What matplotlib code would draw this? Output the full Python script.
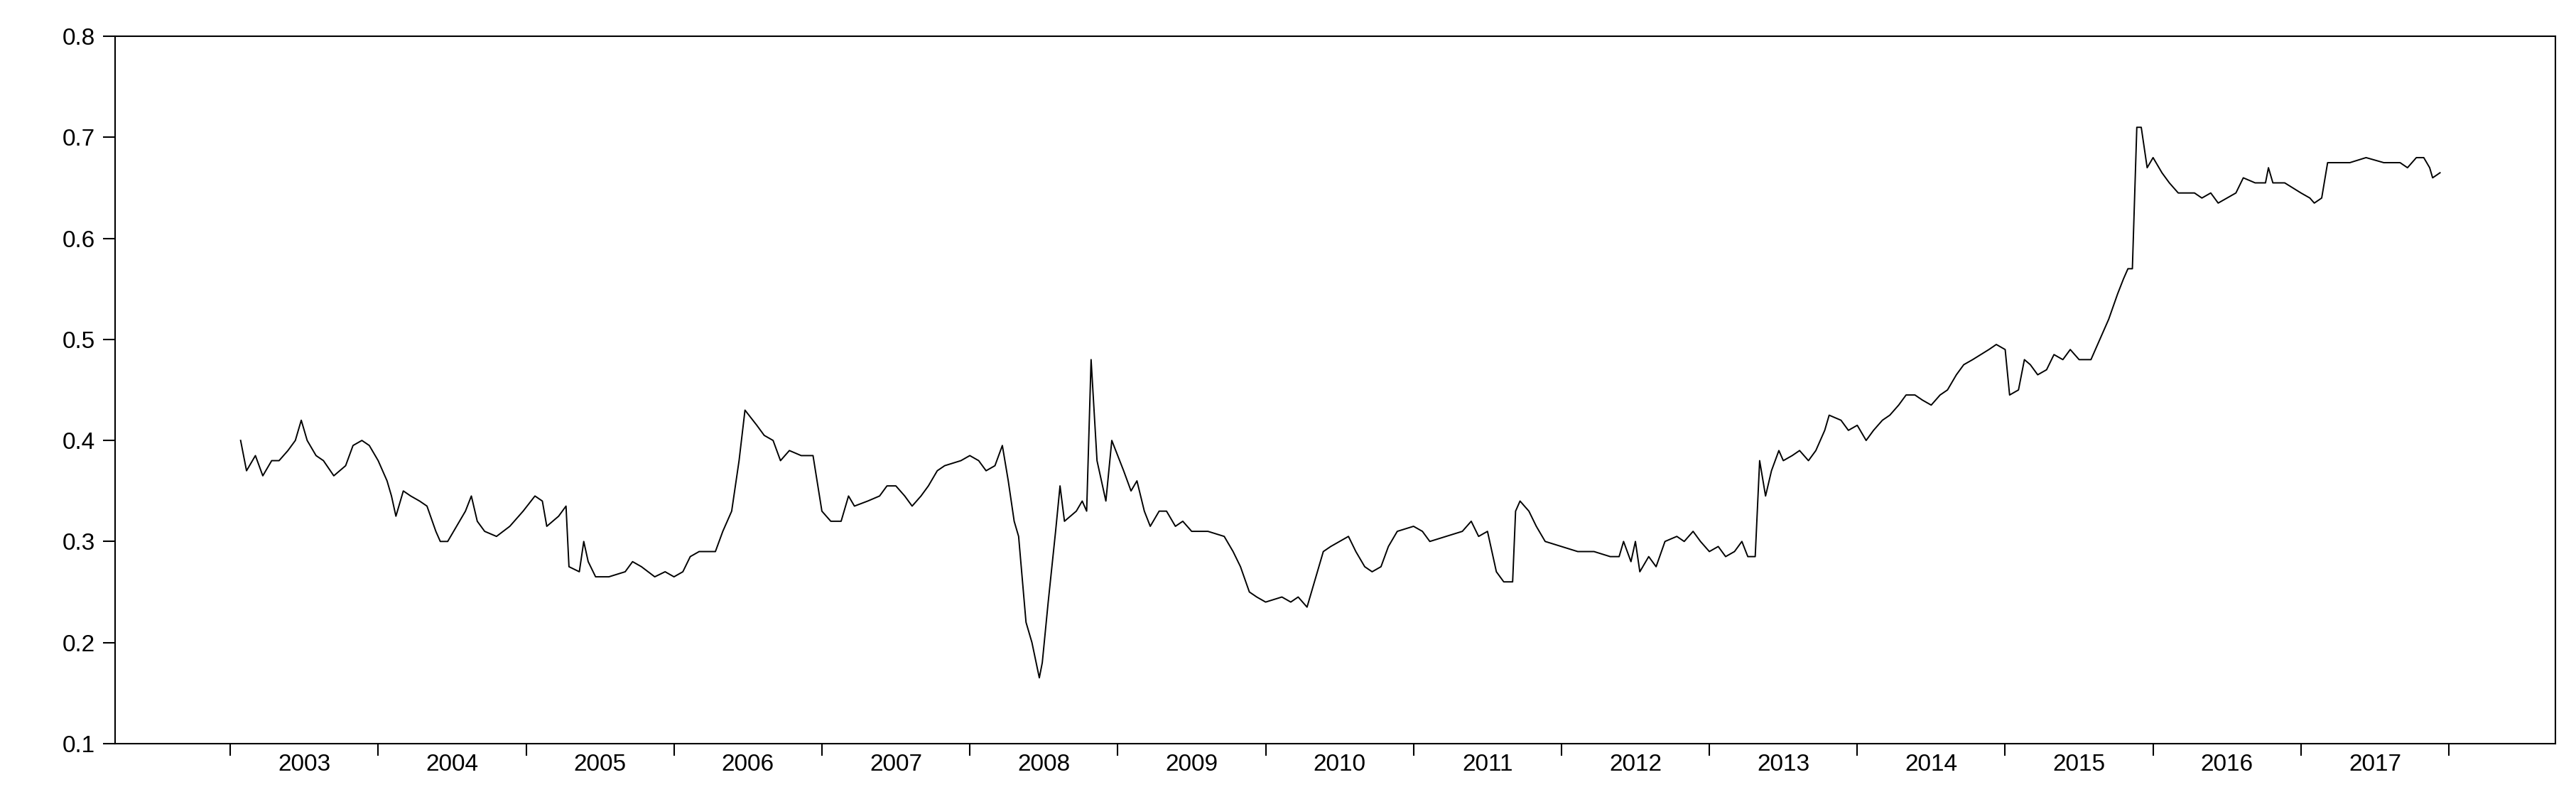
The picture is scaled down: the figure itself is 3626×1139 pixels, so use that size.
import matplotlib
matplotlib.use("Agg")
import matplotlib.pyplot as plt

years = [2003.07,2003.11,2003.17,2003.22,2003.28,2003.33,2003.39,2003.44,2003.48,2003.52,2003.58,2003.63,2003.70,2003.78,2003.83,2003.89,2003.94,
2004.00,2004.06,2004.09,2004.12,2004.17,2004.22,2004.28,2004.33,2004.39,2004.42,2004.47,2004.53,2004.59,2004.63,2004.67,2004.72,2004.80,2004.89,2004.98,
2005.06,2005.11,2005.14,2005.22,2005.27,2005.29,2005.36,2005.39,2005.42,2005.47,2005.56,2005.67,2005.72,2005.78,2005.87,2005.94,
2006.00,2006.06,2006.11,2006.17,2006.28,2006.33,2006.39,2006.44,2006.48,2006.56,2006.61,2006.67,2006.72,2006.78,2006.86,2006.94,
2007.00,2007.06,2007.13,2007.18,2007.22,2007.31,2007.39,2007.44,2007.50,2007.56,2007.61,2007.67,2007.72,2007.78,2007.83,2007.94,
2008.00,2008.06,2008.11,2008.17,2008.22,2008.26,2008.30,2008.33,2008.38,2008.42,2008.47,2008.49,2008.53,2008.58,2008.61,2008.64,2008.72,2008.76,2008.79,2008.82,2008.86,2008.89,2008.92,2008.96,
2009.00,2009.04,2009.09,2009.13,2009.18,2009.22,2009.28,2009.33,2009.39,2009.44,2009.50,2009.61,2009.72,2009.78,2009.83,2009.89,2009.94,
2010.00,2010.11,2010.17,2010.22,2010.28,2010.33,2010.39,2010.44,2010.56,2010.61,2010.67,2010.72,2010.78,2010.83,2010.89,
2011.00,2011.06,2011.11,2011.22,2011.33,2011.39,2011.44,2011.50,2011.56,2011.61,2011.67,2011.69,2011.72,2011.78,2011.83,2011.89,
2012.00,2012.11,2012.22,2012.33,2012.39,2012.42,2012.47,2012.50,2012.53,2012.59,2012.64,2012.70,2012.78,2012.83,2012.89,2012.94,
2013.00,2013.06,2013.11,2013.17,2013.22,2013.26,2013.31,2013.34,2013.38,2013.42,2013.47,2013.50,2013.56,2013.61,2013.67,2013.72,2013.78,2013.81,2013.89,2013.94,
2014.00,2014.06,2014.11,2014.17,2014.22,2014.28,2014.33,2014.39,2014.44,2014.50,2014.56,2014.61,2014.67,2014.72,2014.78,2014.89,2014.94,
2015.00,2015.03,2015.09,2015.13,2015.17,2015.22,2015.28,2015.33,2015.39,2015.44,2015.50,2015.58,2015.64,2015.70,2015.76,2015.80,2015.83,2015.86,2015.89,2015.92,2015.96,
2016.00,2016.06,2016.11,2016.17,2016.28,2016.33,2016.39,2016.44,2016.50,2016.56,2016.61,2016.69,2016.76,2016.78,2016.81,2016.89,
2017.00,2017.06,2017.09,2017.14,2017.18,2017.22,2017.33,2017.44,2017.56,2017.67,2017.72,2017.78,2017.83,2017.87,2017.89,2017.94]

values = [0.40,0.37,0.385,0.365,0.38,0.38,0.39,0.40,0.42,0.40,0.385,0.38,0.365,0.375,0.395,0.40,0.395,
0.38,0.36,0.345,0.325,0.35,0.345,0.34,0.335,0.31,0.30,0.30,0.315,0.33,0.345,0.32,0.31,0.305,0.315,0.33,
0.345,0.34,0.315,0.325,0.335,0.275,0.27,0.30,0.28,0.265,0.265,0.27,0.28,0.275,0.265,0.27,
0.265,0.27,0.285,0.29,0.29,0.31,0.33,0.38,0.43,0.415,0.405,0.40,0.38,0.39,0.385,0.385,
0.33,0.32,0.32,0.345,0.335,0.34,0.345,0.355,0.355,0.345,0.335,0.345,0.355,0.37,0.375,0.38,
0.385,0.38,0.37,0.375,0.395,0.36,0.32,0.305,0.22,0.20,0.165,0.18,0.24,0.31,0.355,0.32,0.33,0.34,0.33,0.48,0.38,0.36,0.34,0.40,
0.385,0.37,0.35,0.36,0.33,0.315,0.33,0.33,0.315,0.32,0.31,0.31,0.305,0.29,0.275,0.25,0.245,
0.24,0.245,0.24,0.245,0.235,0.26,0.29,0.295,0.305,0.29,0.275,0.27,0.275,0.295,0.31,
0.315,0.31,0.30,0.305,0.31,0.32,0.305,0.31,0.27,0.26,0.26,0.33,0.34,0.33,0.315,0.30,
0.295,0.29,0.29,0.285,0.285,0.30,0.28,0.30,0.27,0.285,0.275,0.30,0.305,0.30,0.31,0.30,
0.29,0.295,0.285,0.29,0.30,0.285,0.285,0.38,0.345,0.37,0.39,0.38,0.385,0.39,0.38,0.39,0.41,0.425,0.42,0.41,
0.415,0.40,0.41,0.42,0.425,0.435,0.445,0.445,0.44,0.435,0.445,0.45,0.465,0.475,0.48,0.49,0.495,
0.49,0.445,0.45,0.48,0.475,0.465,0.47,0.485,0.48,0.49,0.48,0.48,0.50,0.52,0.545,0.56,0.57,0.57,0.71,0.71,0.67,
0.68,0.665,0.655,0.645,0.645,0.64,0.645,0.635,0.64,0.645,0.66,0.655,0.655,0.67,0.655,0.655,
0.645,0.64,0.635,0.64,0.675,0.675,0.675,0.68,0.675,0.675,0.67,0.68,0.68,0.67,0.66,0.665]

year_labels = [str(y) for y in range(2003, 2018)]

plt.rcParams['font.family'] = ['Liberation Sans', 'DejaVu Sans']
fig = plt.figure(figsize=(36.26, 11.39), dpi=100)
ax = fig.add_axes([0.0446, 0.081, 0.9474, 0.874])
ax.plot(years, values, color='black', lw=1.4)
ax.set_xlim(2002.22, 2018.72)
ax.set_ylim(0.1, 0.8)
ax.set_yticks([0.1,0.2,0.3,0.4,0.5,0.6,0.7,0.8])
ax.set_yticklabels(['0.1','0.2','0.3','0.4','0.5','0.6','0.7','0.8'])
ax.set_xticks(list(range(2003, 2019)))
ax.set_xticklabels([])
ax.set_xticks([y + 0.5 for y in range(2003, 2018)], minor=True)
ax.set_xticklabels(year_labels, minor=True)
ax.tick_params(axis='x', which='minor', length=0, labelsize=24, pad=10)
ax.tick_params(axis='x', which='major', length=12, width=1.5, direction='out')
ax.tick_params(axis='y', labelsize=24, length=12, width=1.5, direction='out', pad=8)
for s in ax.spines.values():
    s.set_linewidth(1.5)
fig.savefig('out.png', dpi=100)
